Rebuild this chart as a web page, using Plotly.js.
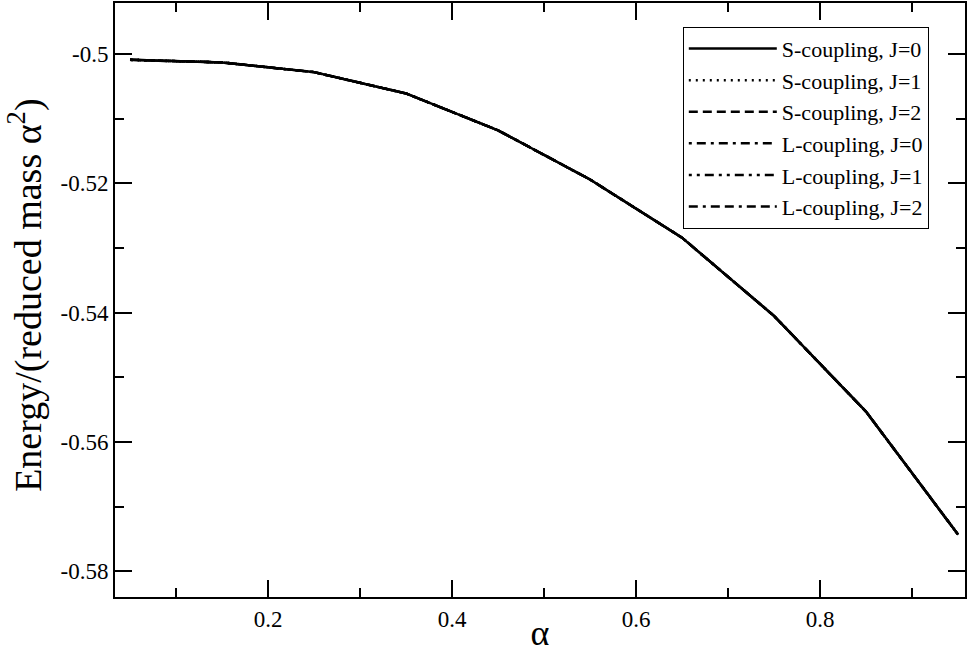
<!DOCTYPE html>
<html>
<head>
<meta charset="utf-8">
<script src="https://cdn.plot.ly/plotly-3.0.1.min.js"></script>
<style>
  html, body { margin: 0; padding: 0; background: #fff; }
  #plot { width: 968px; height: 653px; }
</style>
</head>
<body>
<div id="plot"></div>
<script>
// coupling strength
var alpha = [0.05, 0.15, 0.25, 0.35, 0.45, 0.55, 0.65, 0.75, 0.85, 0.95];

// energies, all six curves lie on top of each other
var sJ0 = [-0.5009, -0.5013, -0.5028, -0.5061, -0.5118, -0.5194, -0.5284, -0.5405, -0.5553, -0.5743];
var sJ1 = [-0.5009, -0.5013, -0.5028, -0.5061, -0.5118, -0.5194, -0.5284, -0.5405, -0.5553, -0.5743];
var sJ2 = [-0.5009, -0.5013, -0.5028, -0.5061, -0.5118, -0.5194, -0.5284, -0.5405, -0.5553, -0.5743];
var lJ0 = [-0.5009, -0.5013, -0.5028, -0.5061, -0.5118, -0.5194, -0.5284, -0.5405, -0.5553, -0.5743];
var lJ1 = [-0.5009, -0.5013, -0.5028, -0.5061, -0.5118, -0.5194, -0.5284, -0.5405, -0.5553, -0.5743];
var lJ2 = [-0.5009, -0.5013, -0.5028, -0.5061, -0.5118, -0.5194, -0.5284, -0.5405, -0.5553, -0.5743];

var names = ['S-coupling, J=0', 'S-coupling, J=1', 'S-coupling, J=2',
             'L-coupling, J=0', 'L-coupling, J=1', 'L-coupling, J=2'];
var series = [sJ0, sJ1, sJ2, lJ0, lJ1, lJ2];
var dashes = ['solid', '2px,5px', '9px,5px', '3px,5px,9px,5px', '3px,5px,3px,5px,9px,5px', '9px,5px,3px,5px,9px,5px'];

// tick labels with a plain hyphen, as in the original
var xTicks = [0.2, 0.4, 0.6, 0.8];
var xTickText = ['0.2', '0.4', '0.6', '0.8'];
var yTicks = [-0.58, -0.56, -0.54, -0.52, -0.5];
var yTickText = ['-0.58', '-0.56', '-0.54', '-0.52', '-0.5'];

var data = [];
for (var i = series.length - 1; i >= 0; i--) {
    data.push({
        x: alpha,
        y: series[i],
        mode: 'lines',
        name: names[i],
        legendrank: i + 1,
        line: { color: '#000', width: 2.5, dash: dashes[i] }
    });
}

var font = 'Liberation Serif';

var layout = {
    width: 968,
    height: 653,
    margin: { l: 115, r: 3, t: 3, b: 56 },
    paper_bgcolor: '#fff',
    plot_bgcolor: '#fff',
    font: { family: font, color: '#000', size: 22 },
    showlegend: true,
    legend: {
        x: 0.668, y: 0.96, xanchor: 'left', yanchor: 'top',
        bgcolor: '#fff', bordercolor: '#000', borderwidth: 1,
        font: { family: font, size: 22, color: '#000' },
        itemwidth: 88,
        tracegroupgap: 0
    },
    xaxis: {
        range: [0.0337, 0.9576],
        showgrid: false, zeroline: false,
        showline: true, linecolor: '#000', linewidth: 2, mirror: 'ticks',
        ticks: 'inside', ticklen: 17, tickwidth: 2, tickcolor: '#000',
        tickmode: 'array', tickvals: xTicks, ticktext: xTickText,
        tickfont: { family: font, size: 23 },
        minor: { ticks: 'inside', ticklen: 9, tickwidth: 2, tickcolor: '#000', dtick: 0.1, tick0: 0 },
        title: { text: 'α', font: { family: font, size: 36 }, standoff: 6 }
    },
    yaxis: {
        range: [-0.58397, -0.49211],
        showgrid: false, zeroline: false,
        showline: true, linecolor: '#000', linewidth: 2, mirror: 'ticks',
        ticks: 'inside', ticklen: 17, tickwidth: 2, tickcolor: '#000',
        tickmode: 'array', tickvals: yTicks, ticktext: yTickText,
        tickfont: { family: font, size: 23 },
        minor: { ticks: 'inside', ticklen: 9, tickwidth: 2, tickcolor: '#000', dtick: 0.01, tick0: 0 },
        title: { text: '' }
    },
    annotations: [{
        xref: 'paper', yref: 'paper', x: 0, y: 0.507,
        xanchor: 'center', yanchor: 'middle', xshift: -89,
        textangle: -90, showarrow: false,
        text: 'Energy/(reduced mass α<sup>2</sup>)',
        font: { family: font, size: 38, color: '#000' }
    }]
};

Plotly.newPlot('plot', data, layout, { displayModeBar: false, staticPlot: true });
</script>
</body>
</html>
